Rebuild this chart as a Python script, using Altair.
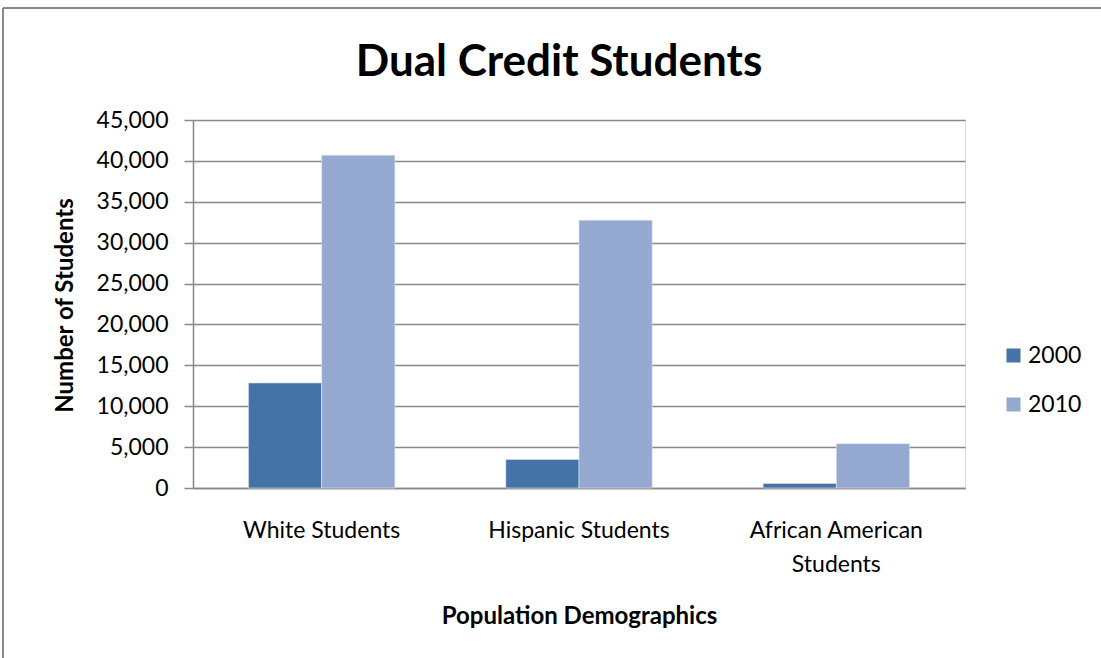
import altair as alt
import pandas as pd

categories = ["White Students", "Hispanic Students", "African American Students"]
years = ["2000", "2010"]
values_2000 = [12850, 3480, 550]
values_2010 = [40700, 32750, 5420]
y_ticks = [0, 5000, 10000, 15000, 20000, 25000, 30000, 35000, 40000, 45000]

rows = []
for c, v0, v1 in zip(categories, values_2000, values_2010):
    rows.append({"category": c, "year": years[0], "students": v0})
    rows.append({"category": c, "year": years[1], "students": v1})
df = pd.DataFrame(rows)

FONT = "Lato"
GRAY = "#888888"

bars = alt.Chart(df).mark_bar(stroke="#dfe6f3", strokeWidth=0.6).encode(
    x=alt.X(
        "category:N",
        sort=categories,
        scale=alt.Scale(paddingInner=0.431, paddingOuter=0.2155),
        axis=alt.Axis(
            title="Population Demographics",
            labelAngle=0,
            ticks=False,
            labelFontSize=23,
            labelFont=FONT,
            labelColor="#000000",
            labelPadding=31,
            labelLimit=400,
            labelLineHeight=34,
            labelExpr="length(datum.label) > 20 ? ['African American', 'Students'] : datum.label",
            domainColor=GRAY,
            domainWidth=1.5,
            titleFont=FONT,
            titleFontSize=24,
            titleFontWeight="bold",
            titleColor="#000000",
            titleBaseline="alphabetic",
            titleX=386,
            titleY=135,
        ),
    ),
    xOffset=alt.XOffset("year:N", sort=years),
    y=alt.Y(
        "students:Q",
        scale=alt.Scale(domain=[0, 45000], nice=False),
        axis=alt.Axis(
            title="Number of Students",
            values=y_ticks,
            format=",d",
            labelFontSize=23,
            labelFont=FONT,
            labelColor="#000000",
            labelPadding=16,
            tickSize=9,
            tickColor=GRAY,
            tickWidth=1.5,
            domainColor=GRAY,
            domainWidth=1.5,
            gridColor=GRAY,
            gridWidth=1.5,
            titleFont=FONT,
            titleFontSize=24,
            titleFontWeight="bold",
            titleColor="#000000",
            titleAngle=-90,
            titleBaseline="alphabetic",
            titleX=-121,
            titleY=185,
        ),
    ),
    color=alt.Color(
        "year:N",
        sort=years,
        scale=alt.Scale(domain=years, range=["#4573A7", "#95A9D0"]),
        legend=alt.Legend(
            title=None,
            orient="none",
            legendX=809,
            legendY=224,
            symbolType="square",
            symbolSize=196,
            symbolStrokeWidth=0,
            labelFont=FONT,
            labelFontSize=23,
            labelColor="#000000",
            labelOffset=3,
            rowPadding=25,
        ),
    ),
)

border_top = alt.Chart(df).mark_rule(color=GRAY, strokeWidth=2).encode(
    x=alt.value(-190), x2=alt.value(920), y=alt.value(-112)
)
border_left = alt.Chart(df).mark_rule(color=GRAY, strokeWidth=2).encode(
    x=alt.value(-190), y=alt.value(-112), y2=alt.value(540)
)

chart = alt.layer(bars, border_top, border_left).properties(
    width=772,
    height=368,
    padding={"left": 193, "top": 120, "right": 136, "bottom": 170},
    autosize=alt.AutoSizeParams(type="none"),
    title=alt.TitleParams(
        "Dual Credit Students",
        font=FONT,
        fontSize=44,
        fontWeight="bold",
        color="#000000",
        anchor="middle",
        dx=-20,
        offset=-78,
    ),
).configure_view(stroke=None).configure(background="white")

chart.save("out.html", embed_options={"renderer": "svg", "actions": False})
